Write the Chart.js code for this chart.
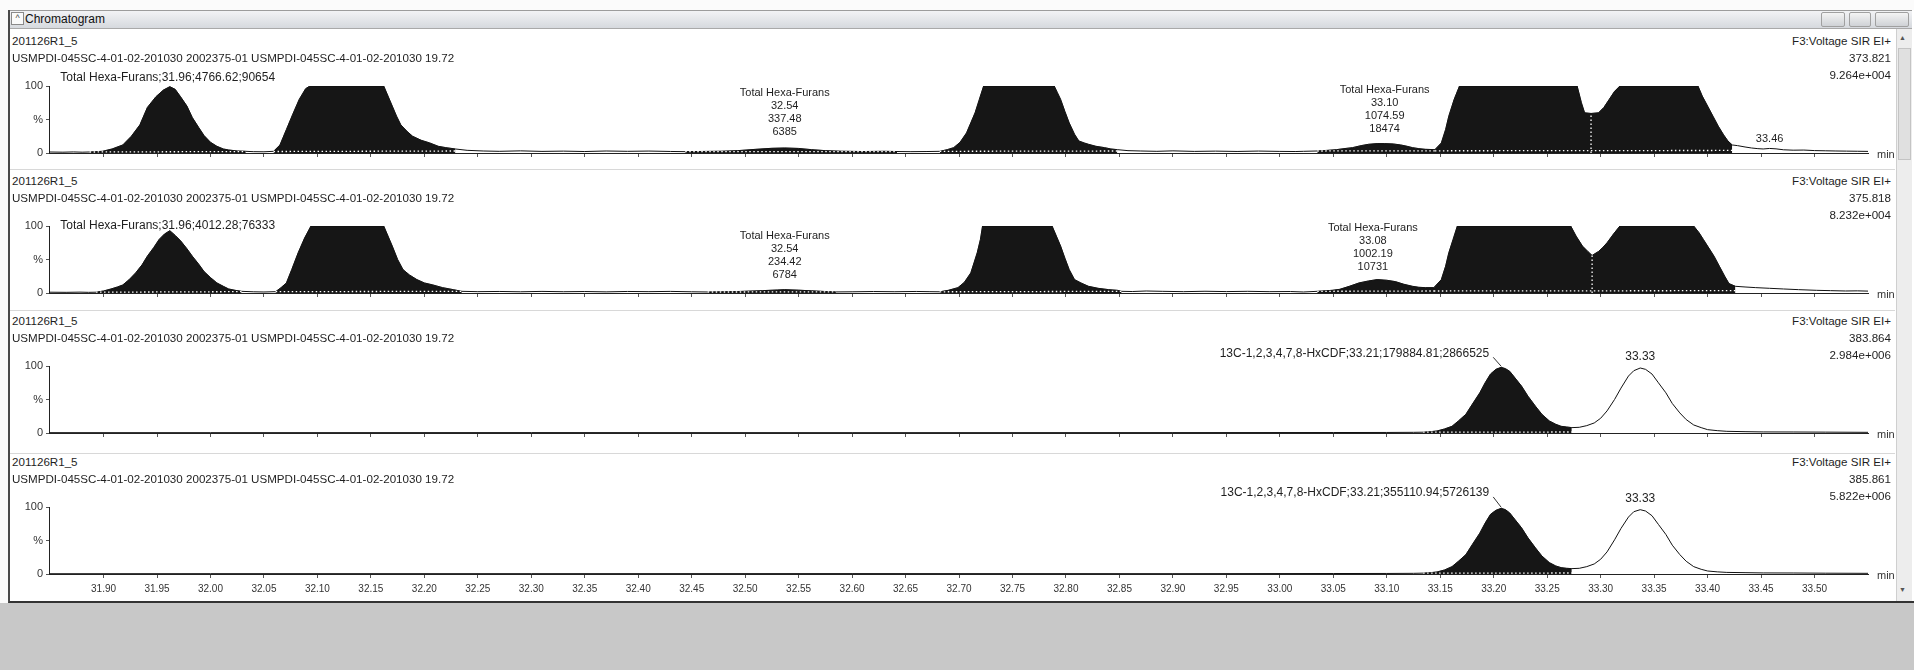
<!DOCTYPE html>
<html>
<head>
<meta charset="utf-8">
<title>Chromatogram</title>
<script src="https://cdn.jsdelivr.net/npm/chart.js@4.4.1/dist/chart.umd.min.js"></script>
<style>
  html, body { margin:0; padding:0; }
  body { width:1914px; height:670px; overflow:hidden; background:#fbfbfb; position:relative;
         font-family:"Liberation Sans", Arial, sans-serif; color:#1c1c1c; }
  .desk { position:absolute; left:0; top:603px; width:1914px; height:67px; background:#c8c8c8; }
  .win { position:absolute; left:8px; top:10px; width:1904px; height:591px; background:#fff;
         border-left:2px solid #4a4a4a; border-bottom:2px solid #333; }
  .titlebar { position:absolute; left:10px; top:10px; width:1902px; height:17px;
              background:linear-gradient(#f2f3f5,#d6d9de); border-top:1px solid #9c9c9c; border-bottom:1px solid #a9a9a9; }
  .ttl { position:absolute; left:25px; top:12px; font-size:12px; line-height:14px; color:#111; }
  .icon { position:absolute; left:11px; top:12px; width:11px; height:11px; border:1px solid #8a8a8a; background:#fafafa;
          font-size:9px; line-height:11px; text-align:center; color:#444; }
  .btn { position:absolute; top:12px; height:13px; border:1px solid #a0a0a0; border-radius:2px;
         background:linear-gradient(#f4f4f4,#cfd2d6); }
  .scroll { position:absolute; left:1896px; top:29px; width:15px; height:572px; background:#ededed; border-left:1px solid #cfcfcf; }
  .thumb { position:absolute; left:1898px; top:48px; width:11px; height:110px; background:#e0e0e0; border:1px solid #c4c4c4; }
  .arr { position:absolute; left:1899px; font-size:7px; color:#555; }
  .sep { position:absolute; left:10px; width:1885px; height:1px; background:#d8d8d8; }
  canvas { position:absolute; left:0; }
  .t { position:absolute; font-size:11.6px; line-height:14px; white-space:nowrap; color:#1e1e1e; z-index:5; }
  .r { text-align:right; }
</style>
</head>
<body>
<div class="desk"></div>
<div class="win"></div>
<div class="titlebar"></div>
<div class="icon">^</div>
<div class="ttl" id="winTitle"></div>
<div class="btn" style="left:1821px;width:22px;"></div>
<div class="btn" style="left:1849px;width:20px;"></div>
<div class="btn" style="left:1875px;width:32px;"></div>
<div class="scroll"></div>
<div class="thumb"></div>
<div class="arr" style="top:34px;">&#9650;</div>
<div class="arr" style="top:586px;">&#9660;</div>
<div class="sep" style="top:169px;"></div>
<div class="sep" style="top:310px;"></div>
<div class="sep" style="top:453px;"></div>

<canvas id="c1" width="1914" height="109" style="top:54px"></canvas>
<canvas id="c2" width="1914" height="109" style="top:194px"></canvas>
<canvas id="c3" width="1914" height="109" style="top:334px"></canvas>
<canvas id="c4" width="1914" height="129" style="top:475px"></canvas>
<div id="texts"></div>

<script>
// ---------------- data ----------------
const windowTitle = 'Chromatogram';
const runId = '201126R1_5';
const sampleDesc = 'USMPDI-045SC-4-01-02-201030 2002375-01 USMPDI-045SC-4-01-02-201030 19.72';
const functionName = 'F3:Voltage SIR EI+';
const massChannels = ['373.821', '375.818', '383.864', '385.861'];
const channelIntensity = ['9.264e+004', '8.232e+004', '2.984e+006', '5.822e+006'];

const xTickValues = [31.90,31.95,32.00,32.05,32.10,32.15,32.20,32.25,32.30,32.35,32.40,32.45,32.50,32.55,32.60,32.65,
                     32.70,32.75,32.80,32.85,32.90,32.95,33.00,33.05,33.10,33.15,33.20,33.25,33.30,33.35,33.40,33.45,33.50];
const xTickLabels = ['31.90','31.95','32.00','32.05','32.10','32.15','32.20','32.25','32.30','32.35','32.40','32.45','32.50','32.55','32.60','32.65',
                     '32.70','32.75','32.80','32.85','32.90','32.95','33.00','33.05','33.10','33.15','33.20','33.25','33.30','33.35','33.40','33.45','33.50'];
const yTickValues = [0, 50, 100];
const yTickLabels = ['0', '%', '100'];
const timeRange = [31.849, 33.55];

// trace 1 : [retention time (min), relative intensity (%)]
const p1Trace = [
 [31.849,1.5],[31.862,1.2],[31.872,1.6],[31.880,1.2],[31.887,1.5],[31.899,2.5],[31.908,6],[31.918,12],[31.926,25],
 [31.934,42],[31.941,68],[31.949,84],[31.956,94],[31.962,99],[31.967,95],[31.972,84],[31.978,70],[31.983,53],[31.989,38],
 [31.994,26],[32.000,16],[32.006,10],[32.012,6],[32.017,4.5],[32.025,3],[32.033,2.5],[32.040,2],[32.050,1.8],
 [32.059,2.5],[32.065,12],[32.071,35],[32.077,58],[32.083,80],[32.089,96],[32.093,100],[32.162,100],[32.166,85],
 [32.170,70],[32.174,55],[32.178,42],[32.184,32],[32.189,25],[32.197,19],[32.205,15],[32.213,10],[32.220,8],[32.229,6],
 [32.240,4],[32.255,3],[32.270,2.5],[32.290,3.2],[32.310,2.4],[32.330,2.8],[32.350,2.2],[32.370,3.0],[32.390,2.5],
 [32.410,2.9],[32.430,2.3],[32.444,2.0],[32.460,2.3],[32.478,2.6],[32.493,3.5],[32.510,5.5],[32.525,7],[32.537,7.5],
 [32.550,6.8],[32.562,5.0],[32.575,3.5],[32.590,2.6],[32.610,2.2],[32.630,2.5],[32.642,2.2],[32.655,2.0],[32.670,2.2],
 [32.682,2.5],[32.689,5],[32.695,8],[32.701,16],[32.707,30],[32.711,45],[32.715,60],[32.719,80],[32.723,100],[32.789,100],
 [32.792,90],[32.795,80],[32.799,62],[32.803,45],[32.808,28],[32.812,18],[32.817,15],[32.821,13],[32.828,10],[32.836,8],
 [32.842,6],[32.848,5],[32.858,3.5],[32.870,3],[32.885,2.5],[32.900,3.2],[32.920,2.4],[32.940,2.8],[32.960,2.3],
 [32.980,2.9],[33.000,2.4],[33.015,2.2],[33.022,2.5],[33.035,3],[33.045,4],[33.053,5],[33.060,6.5],[33.068,8],
 [33.076,11],[33.083,13],[33.091,14],[33.098,14],[33.106,13.5],[33.113,12],[33.119,10],[33.124,8],[33.130,6.5],
 [33.136,5.5],[33.145,5],[33.151,15],[33.155,35],[33.158,55],[33.163,80],[33.168,100],[33.278,100],[33.282,75],
 [33.285,60],[33.291,59],[33.298,60],[33.303,68],[33.308,80],[33.313,92],[33.318,100],[33.391,100],[33.395,85],
 [33.400,70],[33.405,55],[33.410,40],[33.415,27],[33.419,18],[33.423,12],[33.428,11],[33.435,9],[33.441,7.5],
 [33.447,6.5],[33.452,6],[33.458,6.8],[33.464,6.2],[33.471,4.8],[33.480,4.2],[33.490,4.4],[33.500,3.6],[33.510,3.3],
 [33.520,3.0],[33.530,2.8],[33.540,2.6],[33.550,2.4]
];
// integration windows: [start, end, baseline level at start, baseline level at end]
const p1Windows = [[31.887,32.033,1.5,2.2],[32.059,32.229,2.2,3],[32.444,32.642,2,2.2],[32.682,32.848,2.5,3],
                   [33.035,33.145,3,3.3],[33.145,33.423,3.3,3.8]];
const p1Drops = [33.291];
const p1Labels = [
 {t:31.96, level:113, lines:['Total Hexa-Furans;31.96;4766.62;90654']},
 {t:32.537, level:31, size:11, lines:['Total Hexa-Furans','32.54','337.48','6385']},
 {t:33.098, level:36, size:11, lines:['Total Hexa-Furans','33.10','1074.59','18474']},
 {t:33.458, level:21, size:11, lines:['33.46']}
];

// trace 2
const p2Trace = [
 [31.849,1.2],[31.865,1.0],[31.878,1.3],[31.886,1.0],[31.893,1.2],[31.900,3],[31.907,6],[31.913,9],[31.918,12],
 [31.924,20],[31.930,30],[31.936,42],[31.941,55],[31.947,68],[31.952,80],[31.957,88],[31.962,93],[31.967,86],
 [31.972,78],[31.978,66],[31.983,55],[31.989,43],[31.994,32],[32.000,23],[32.006,15],[32.012,10],[32.017,6],
 [32.023,4],[32.029,2.5],[32.040,1.8],[32.050,1.5],[32.061,2],[32.066,8],[32.071,15],[32.076,35],[32.082,60],
 [32.088,82],[32.094,100],[32.162,100],[32.166,85],[32.170,70],[32.175,50],[32.180,35],[32.186,27],[32.193,20],
 [32.200,15],[32.208,12],[32.217,8],[32.227,5],[32.235,2.5],[32.250,2],[32.270,2.3],[32.290,1.8],[32.310,2.4],
 [32.330,1.9],[32.350,2.2],[32.370,1.7],[32.390,2.3],[32.410,2.0],[32.430,2.4],[32.450,1.8],[32.465,1.5],[32.478,1.8],
 [32.495,2.3],[32.516,3.5],[32.530,4.5],[32.537,5],[32.550,4.2],[32.562,3.2],[32.575,2.2],[32.585,1.6],[32.600,1.8],
 [32.620,2.2],[32.640,1.9],[32.660,2.3],[32.672,2.0],[32.682,1.8],[32.690,4],[32.699,8],[32.705,16],[32.711,30],
 [32.714,45],[32.717,60],[32.720,80],[32.722,100],[32.787,100],[32.791,85],[32.795,70],[32.799,52],[32.803,35],
 [32.808,20],[32.814,15],[32.821,10],[32.830,7],[32.840,5],[32.848,4],[32.852,2.5],[32.862,2.2],[32.875,3],
 [32.890,2.5],[32.910,2.0],[32.930,2.6],[32.950,2.1],[32.970,2.5],[32.990,2.0],[33.010,2.2],[33.022,1.5],[33.035,2.5],
 [33.049,4],[33.056,5.5],[33.065,10],[33.074,15],[33.083,18],[33.091,20],[33.100,19],[33.108,17],[33.116,13],
 [33.124,10],[33.130,8.5],[33.136,8],[33.144,8],[33.151,20],[33.155,40],[33.158,60],[33.162,80],[33.166,100],
 [33.272,100],[33.277,85],[33.283,70],[33.288,62],[33.292,56],[33.298,62],[33.302,68],[33.306,75],[33.312,88],
 [33.318,100],[33.387,100],[33.392,90],[33.396,80],[33.400,70],[33.406,55],[33.411,40],[33.416,25],[33.420,14],
 [33.426,10],[33.435,9],[33.445,8],[33.458,7],[33.471,6],[33.485,5],[33.502,4],[33.515,3.5],[33.529,3],[33.540,3.2],
 [33.550,2.8]
];
const p2Windows = [[31.893,32.029,1.2,2],[32.061,32.235,2,2.5],[32.465,32.585,1.5,1.6],[32.682,32.852,1.8,2.5],
                   [33.035,33.144,2.5,3],[33.144,33.426,3,3.5]];
const p2Drops = [33.292];
const p2Labels = [
 {t:31.96, level:100, lines:['Total Hexa-Furans;31.96;4012.28;76333']},
 {t:32.537, level:27, size:11, lines:['Total Hexa-Furans','32.54','234.42','6784']},
 {t:33.087, level:39, size:11, lines:['Total Hexa-Furans','33.08','1002.19','10731']}
];

// traces 3 and 4 (labelled internal standard + second isomer)
const isoTime = [31.849,32.000,32.300,32.600,32.900,33.050,33.100,33.125,33.134,33.141,33.147,33.154,33.161,33.167,
 33.174,33.180,33.187,33.192,33.197,33.202,33.207,33.211,33.215,33.220,33.226,33.232,33.239,33.245,33.252,33.258,
 33.263,33.268,33.273,33.280,33.287,33.294,33.300,33.306,33.313,33.319,33.326,33.331,33.337,33.342,33.348,33.354,
 33.361,33.367,33.374,33.380,33.387,33.394,33.400,33.409,33.418,33.435,33.452,33.480,33.510,33.550];
const p3Signal = [0.5,0.5,0.6,0.5,0.6,0.7,0.8,1.0,1.2,2,3,6,10,18,28,43,60,75,88,95,98,96,92,82,70,55,40,28,18,13,10,9,8,
 8.5,11,15,22,33,50,67,85,93,97,95,88,75,60,44,30,20,12,8,5,3.5,2.5,2,1.6,1.5,1.3,1.0];
const p4Signal = [0.4,0.5,0.5,0.6,0.5,0.7,0.8,1.0,1.3,2,3,6,11,19,29,44,61,76,89,95,98,96,91,81,69,54,39,27,17,12,9.5,8.5,8,
 8.5,11,15,22,33,51,68,85,93,96,94,87,74,59,43,29,19,11,7,4.5,3.2,2.4,2,1.6,1.5,1.2,1.0];
const isoWindows = [[33.134,33.273,1.2,1.5]];
const p3Labels = [
 {t:33.207, level:119, align:'right', dx:-12, leader:98, lines:['13C-1,2,3,4,7,8-HxCDF;33.21;179884.81;2866525']},
 {t:33.337, level:114, lines:['33.33']}
];
const p4Labels = [
 {t:33.207, level:121, align:'right', dx:-12, leader:98, lines:['13C-1,2,3,4,7,8-HxCDF;33.21;355110.94;5726139']},
 {t:33.337, level:113, lines:['33.33']}
];

// ---------------- page texts ----------------
document.getElementById('winTitle').textContent = windowTitle;
const panelBase = [153, 293, 433, 574];
const texts = document.getElementById('texts');
function addText(str, left, centerY, right) {
  const d = document.createElement('div');
  d.className = 't' + (right ? ' r' : '');
  d.textContent = str;
  d.style.top = (centerY - 7) + 'px';
  if (right) { d.style.right = (1914 - left) + 'px'; } else { d.style.left = left + 'px'; }
  texts.appendChild(d);
}
panelBase.forEach((b, i) => {
  addText(runId, 12, b - 112, false);
  addText(sampleDesc, 12, b - 95, false);
  addText(functionName, 1891, b - 112, true);
  addText(massChannels[i], 1891, b - 95, true);
  addText(channelIntensity[i], 1891, b - 78, true);
});

// ---------------- charts ----------------
Chart.defaults.font.family = '"Liberation Sans", Arial, sans-serif';
Chart.defaults.font.size = 11;
Chart.defaults.color = '#2a2a2a';

function valueAt(trace, t) {
  let best = trace[0];
  for (const p of trace) if (Math.abs(p[0] - t) < Math.abs(best[0] - t)) best = p;
  return best[1];
}

function labelPlugin(items) {
  return {
    id: 'peakLabels',
    afterDatasetsDraw(chart) {
      const { ctx, chartArea, scales: { x, y } } = chart;
      ctx.save();
      ctx.fillStyle = '#1e1e1e';
      ctx.strokeStyle = '#333';
      ctx.lineWidth = 1;
      ctx.textBaseline = 'middle';
      items.forEach(it => {
        const size = it.size || 12;
        ctx.font = size + 'px "Liberation Sans", Arial, sans-serif';
        ctx.textAlign = it.align || 'center';
        const px = x.getPixelForValue(it.t) + (it.dx || 0);
        const py = y.getPixelForValue(it.level);
        const n = it.lines.length;
        it.lines.forEach((ln, k) => ctx.fillText(ln, px, py - (n - 1 - k) * 13));
        if (it.leader != null) {
          ctx.beginPath();
          ctx.moveTo(px + 4, py + 4);
          ctx.lineTo(x.getPixelForValue(it.t), y.getPixelForValue(it.leader) - 1);
          ctx.stroke();
        }
      });
      ctx.font = '11px "Liberation Sans", Arial, sans-serif';
      ctx.textAlign = 'left';
      ctx.fillStyle = '#333';
      ctx.fillText('min', chartArea.right + 9, chartArea.bottom + 2);
      ctx.restore();
    }
  };
}

function makePanel(id, trace, windows, drops, labels, showX, axisH) {
  const inWin = t => windows.some(w => t >= w[0] - 1e-9 && t <= w[1] + 1e-9);
  const traceData = trace.map(p => ({ x: p[0], y: p[1] }));
  const fillData = trace.map(p => ({ x: p[0], y: inWin(p[0]) ? p[1] : null }));
  const baseData = [];
  windows.forEach(w => {
    baseData.push({ x: w[0], y: w[2] }, { x: w[1], y: w[3] }, { x: w[1], y: null });
  });
  const dotted = { borderColor: '#ffffff', borderWidth: 1.3, borderDash: [1.5, 2.5], pointRadius: 0, fill: false, spanGaps: false, order: 0 };
  const dropSets = drops.map(d => Object.assign({ data: [{ x: d, y: 0 }, { x: d, y: valueAt(trace, d) }] }, dotted));
  new Chart(document.getElementById(id), {
    type: 'line',
    data: {
      datasets: [
        ...dropSets,
        Object.assign({ label: 'integration baseline', data: baseData }, dotted),
        { label: 'trace', data: traceData, borderColor: '#111', borderWidth: 1, pointRadius: 0, fill: false, tension: 0, order: 1 },
        { label: 'integrated', data: fillData, borderColor: '#161616', borderWidth: 0.5, backgroundColor: '#161616',
          pointRadius: 0, fill: 'origin', spanGaps: false, tension: 0, order: 2 }
      ]
    },
    options: {
      responsive: false, animation: false, events: [],
      layout: { padding: { top: 32, right: 46, left: 0, bottom: 0 } },
      plugins: { legend: { display: false }, tooltip: { enabled: false } },
      scales: {
        x: {
          type: 'linear', min: timeRange[0], max: timeRange[1],
          afterBuildTicks: s => { s.ticks = xTickValues.map(v => ({ value: v })); },
          afterFit: s => { s.height = axisH; },
          ticks: { display: showX, autoSkip: false, maxRotation: 0, padding: 5, font: { size: 10 }, color: '#333',
                   callback: (v, i) => xTickLabels[i] },
          grid: { drawOnChartArea: false, drawTicks: true, tickLength: 4, color: '#555' },
          border: { display: true, color: '#222', width: 1 }
        },
        y: {
          min: 0, max: 100,
          afterBuildTicks: s => { s.ticks = yTickValues.map(v => ({ value: v })); },
          afterFit: s => { s.width = 49; },
          ticks: { padding: 3, font: { size: 11 }, color: '#333', callback: (v, i) => yTickLabels[i] },
          grid: { drawOnChartArea: false, drawTicks: true, tickLength: 3, color: '#555' },
          border: { display: true, color: '#222', width: 1 }
        }
      }
    },
    plugins: [labelPlugin(labels)]
  });
}

const p3Trace = isoTime.map((t, i) => [t, p3Signal[i]]);
const p4Trace = isoTime.map((t, i) => [t, p4Signal[i]]);
makePanel('c1', p1Trace, p1Windows, p1Drops, p1Labels, false, 10);
makePanel('c2', p2Trace, p2Windows, p2Drops, p2Labels, false, 10);
makePanel('c3', p3Trace, isoWindows, [], p3Labels, false, 10);
makePanel('c4', p4Trace, isoWindows, [], p4Labels, true, 30);
</script>
</body>
</html>
